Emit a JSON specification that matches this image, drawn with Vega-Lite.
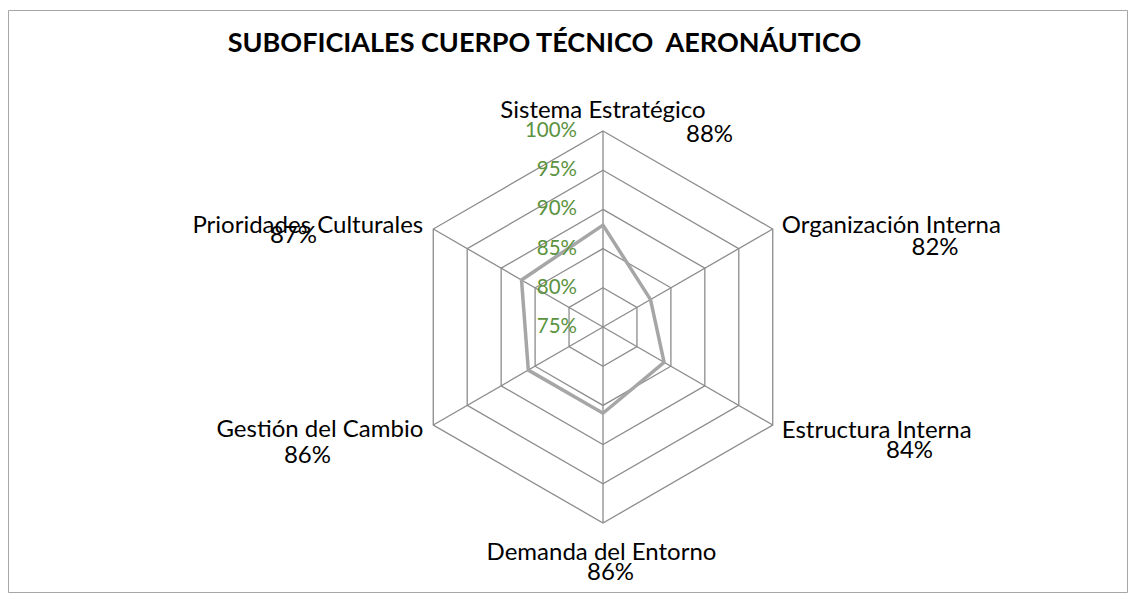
{
  "$schema": "https://vega.github.io/schema/vega-lite/v6.json",
  "width": 1119,
  "height": 582,
  "autosize": {"type": "none"},
  "padding": {"left": 8, "top": 10, "right": 4, "bottom": 4},
  "background": "white",
  "config": {"view": {"stroke": "#a6a6a6", "strokeWidth": 1}},
  "title": {
    "text": "SUBOFICIALES CUERPO TÉCNICO \u00a0AERONÁUTICO",
    "font": "Lato", "fontSize": 27, "fontWeight": "bold", "color": "#000000",
    "anchor": "middle", "offset": 0, "baseline": "alphabetic", "dy": 69, "dx": -23
  },
  "datasets": {
    "main": [
      {"axis": 0, "category": "Sistema Estratégico", "value": 0.88},
      {"axis": 1, "category": "Organización Interna", "value": 0.82},
      {"axis": 2, "category": "Estructura Interna", "value": 0.84},
      {"axis": 3, "category": "Demanda del Entorno", "value": 0.86},
      {"axis": 4, "category": "Gestión del Cambio", "value": 0.86},
      {"axis": 5, "category": "Prioridades Culturales", "value": 0.87}
    ],
    "levels": [
      {"level": 0.75}, {"level": 0.80}, {"level": 0.85}, {"level": 0.90}, {"level": 0.95}, {"level": 1.00}
    ],
    "grid": [
      {"axis": 0, "level": 0.80}, {"axis": 1, "level": 0.80}, {"axis": 2, "level": 0.80}, {"axis": 3, "level": 0.80}, {"axis": 4, "level": 0.80}, {"axis": 5, "level": 0.80},
      {"axis": 0, "level": 0.85}, {"axis": 1, "level": 0.85}, {"axis": 2, "level": 0.85}, {"axis": 3, "level": 0.85}, {"axis": 4, "level": 0.85}, {"axis": 5, "level": 0.85},
      {"axis": 0, "level": 0.90}, {"axis": 1, "level": 0.90}, {"axis": 2, "level": 0.90}, {"axis": 3, "level": 0.90}, {"axis": 4, "level": 0.90}, {"axis": 5, "level": 0.90},
      {"axis": 0, "level": 0.95}, {"axis": 1, "level": 0.95}, {"axis": 2, "level": 0.95}, {"axis": 3, "level": 0.95}, {"axis": 4, "level": 0.95}, {"axis": 5, "level": 0.95},
      {"axis": 0, "level": 1.00}, {"axis": 1, "level": 1.00}, {"axis": 2, "level": 1.00}, {"axis": 3, "level": 1.00}, {"axis": 4, "level": 1.00}, {"axis": 5, "level": 1.00}
    ]
  },
  "data": {"name": "main"},
  "transform": [
    {"calculate": "datum.axis * PI / 3", "as": "theta"},
    {"calculate": "(datum.value - 0.75) * 100 * sin(datum.theta)", "as": "px"},
    {"calculate": "(datum.value - 0.75) * 100 * cos(datum.theta)", "as": "py"},
    {"calculate": "25 * sin(datum.theta)", "as": "ox"},
    {"calculate": "25 * cos(datum.theta)", "as": "oy"},
    {"calculate": "0", "as": "zero"}
  ],
  "layer": [
    {
      "data": {"name": "grid"},
      "transform": [
        {"calculate": "datum.axis * PI / 3", "as": "theta"},
        {"calculate": "(datum.level - 0.75) * 100 * sin(datum.theta)", "as": "gx"},
        {"calculate": "(datum.level - 0.75) * 100 * cos(datum.theta)", "as": "gy"}
      ],
      "mark": {"type": "line", "interpolate": "linear-closed", "stroke": "#8c8c8c", "strokeWidth": 1.3},
      "encoding": {
        "x": {"field": "gx", "type": "quantitative", "axis": null, "scale": {"domain": [-75.893, 66.837], "nice": false, "zero": false}},
        "y": {"field": "gy", "type": "quantitative", "axis": null, "scale": {"domain": [-33.801, 40.434], "nice": false, "zero": false}},
        "detail": {"field": "level", "type": "nominal"},
        "order": {"field": "axis", "type": "quantitative"}
      }
    },
    {
      "mark": {"type": "rule", "stroke": "#8c8c8c", "strokeWidth": 1.3},
      "encoding": {
        "x": {"field": "zero", "type": "quantitative", "axis": null, "scale": {"domain": [-75.893, 66.837], "nice": false, "zero": false}},
        "y": {"field": "zero", "type": "quantitative", "axis": null, "scale": {"domain": [-33.801, 40.434], "nice": false, "zero": false}},
        "x2": {"field": "ox"},
        "y2": {"field": "oy"}
      }
    },
    {
      "mark": {"type": "line", "interpolate": "linear-closed", "stroke": "#a6a6a6", "strokeWidth": 3.5},
      "encoding": {
        "x": {"field": "px", "type": "quantitative", "axis": null, "scale": {"domain": [-75.893, 66.837], "nice": false, "zero": false}},
        "y": {"field": "py", "type": "quantitative", "axis": null, "scale": {"domain": [-33.801, 40.434], "nice": false, "zero": false}},
        "order": {"field": "axis", "type": "quantitative"}
      }
    },
    {
      "data": {"name": "levels"},
      "transform": [
        {"calculate": "(datum.level - 0.75) * 100", "as": "ly"},
        {"calculate": "0", "as": "zero"}
      ],
      "mark": {"type": "text", "font": "Lato", "fontSize": 20.5, "color": "#5B9340", "align": "right", "baseline": "middle", "dx": -26},
      "encoding": {
        "x": {"field": "zero", "type": "quantitative", "axis": null, "scale": {"domain": [-75.893, 66.837], "nice": false, "zero": false}},
        "y": {"field": "ly", "type": "quantitative", "axis": null, "scale": {"domain": [-33.801, 40.434], "nice": false, "zero": false}},
        "text": {"field": "level", "type": "quantitative", "format": ".0%"}
      }
    },
    {
      "transform": [{"filter": "datum.axis == 0"}],
      "mark": {"type": "text", "font": "Lato", "fontSize": 24, "color": "#000000", "align": "center", "baseline": "alphabetic", "dx": 0, "dy": -13},
      "encoding": {
        "x": {"field": "ox", "type": "quantitative", "axis": null, "scale": {"domain": [-75.893, 66.837], "nice": false, "zero": false}},
        "y": {"field": "oy", "type": "quantitative", "axis": null, "scale": {"domain": [-33.801, 40.434], "nice": false, "zero": false}},
        "text": {"field": "category", "type": "nominal"}
      }
    },
    {
      "transform": [{"filter": "datum.axis == 1"}],
      "mark": {"type": "text", "font": "Lato", "fontSize": 24, "color": "#000000", "align": "left", "baseline": "alphabetic", "dx": 9, "dy": 4},
      "encoding": {
        "x": {"field": "ox", "type": "quantitative", "axis": null, "scale": {"domain": [-75.893, 66.837], "nice": false, "zero": false}},
        "y": {"field": "oy", "type": "quantitative", "axis": null, "scale": {"domain": [-33.801, 40.434], "nice": false, "zero": false}},
        "text": {"field": "category", "type": "nominal"}
      }
    },
    {
      "transform": [{"filter": "datum.axis == 2"}],
      "mark": {"type": "text", "font": "Lato", "fontSize": 24, "color": "#000000", "align": "left", "baseline": "alphabetic", "dx": 9, "dy": 13},
      "encoding": {
        "x": {"field": "ox", "type": "quantitative", "axis": null, "scale": {"domain": [-75.893, 66.837], "nice": false, "zero": false}},
        "y": {"field": "oy", "type": "quantitative", "axis": null, "scale": {"domain": [-33.801, 40.434], "nice": false, "zero": false}},
        "text": {"field": "category", "type": "nominal"}
      }
    },
    {
      "transform": [{"filter": "datum.axis == 3"}],
      "mark": {"type": "text", "font": "Lato", "fontSize": 24, "color": "#000000", "align": "center", "baseline": "alphabetic", "dx": -1.5, "dy": 37},
      "encoding": {
        "x": {"field": "ox", "type": "quantitative", "axis": null, "scale": {"domain": [-75.893, 66.837], "nice": false, "zero": false}},
        "y": {"field": "oy", "type": "quantitative", "axis": null, "scale": {"domain": [-33.801, 40.434], "nice": false, "zero": false}},
        "text": {"field": "category", "type": "nominal"}
      }
    },
    {
      "transform": [{"filter": "datum.axis == 4"}],
      "mark": {"type": "text", "font": "Lato", "fontSize": 24, "color": "#000000", "align": "right", "baseline": "alphabetic", "dx": -10, "dy": 12},
      "encoding": {
        "x": {"field": "ox", "type": "quantitative", "axis": null, "scale": {"domain": [-75.893, 66.837], "nice": false, "zero": false}},
        "y": {"field": "oy", "type": "quantitative", "axis": null, "scale": {"domain": [-33.801, 40.434], "nice": false, "zero": false}},
        "text": {"field": "category", "type": "nominal"}
      }
    },
    {
      "transform": [{"filter": "datum.axis == 5"}],
      "mark": {"type": "text", "font": "Lato", "fontSize": 24, "color": "#000000", "align": "right", "baseline": "alphabetic", "dx": -10, "dy": 4},
      "encoding": {
        "x": {"field": "ox", "type": "quantitative", "axis": null, "scale": {"domain": [-75.893, 66.837], "nice": false, "zero": false}},
        "y": {"field": "oy", "type": "quantitative", "axis": null, "scale": {"domain": [-33.801, 40.434], "nice": false, "zero": false}},
        "text": {"field": "category", "type": "nominal"}
      }
    },
    {
      "transform": [{"filter": "datum.axis == 0"}],
      "mark": {"type": "text", "font": "Lato", "fontSize": 24, "color": "#000000", "align": "center", "baseline": "alphabetic", "dx": 106.5, "dy": 11},
      "encoding": {
        "x": {"field": "ox", "type": "quantitative", "axis": null, "scale": {"domain": [-75.893, 66.837], "nice": false, "zero": false}},
        "y": {"field": "oy", "type": "quantitative", "axis": null, "scale": {"domain": [-33.801, 40.434], "nice": false, "zero": false}},
        "text": {"field": "value", "type": "quantitative", "format": ".0%"}
      }
    },
    {
      "transform": [{"filter": "datum.axis == 1"}],
      "mark": {"type": "text", "font": "Lato", "fontSize": 24, "color": "#000000", "align": "center", "baseline": "alphabetic", "dx": 162.3, "dy": 26},
      "encoding": {
        "x": {"field": "ox", "type": "quantitative", "axis": null, "scale": {"domain": [-75.893, 66.837], "nice": false, "zero": false}},
        "y": {"field": "oy", "type": "quantitative", "axis": null, "scale": {"domain": [-33.801, 40.434], "nice": false, "zero": false}},
        "text": {"field": "value", "type": "quantitative", "format": ".0%"}
      }
    },
    {
      "transform": [{"filter": "datum.axis == 2"}],
      "mark": {"type": "text", "font": "Lato", "fontSize": 24, "color": "#000000", "align": "center", "baseline": "alphabetic", "dx": 136.8, "dy": 33},
      "encoding": {
        "x": {"field": "ox", "type": "quantitative", "axis": null, "scale": {"domain": [-75.893, 66.837], "nice": false, "zero": false}},
        "y": {"field": "oy", "type": "quantitative", "axis": null, "scale": {"domain": [-33.801, 40.434], "nice": false, "zero": false}},
        "text": {"field": "value", "type": "quantitative", "format": ".0%"}
      }
    },
    {
      "transform": [{"filter": "datum.axis == 3"}],
      "mark": {"type": "text", "font": "Lato", "fontSize": 24, "color": "#000000", "align": "center", "baseline": "alphabetic", "dx": 7.5, "dy": 57},
      "encoding": {
        "x": {"field": "ox", "type": "quantitative", "axis": null, "scale": {"domain": [-75.893, 66.837], "nice": false, "zero": false}},
        "y": {"field": "oy", "type": "quantitative", "axis": null, "scale": {"domain": [-33.801, 40.434], "nice": false, "zero": false}},
        "text": {"field": "value", "type": "quantitative", "format": ".0%"}
      }
    },
    {
      "transform": [{"filter": "datum.axis == 4"}],
      "mark": {"type": "text", "font": "Lato", "fontSize": 24, "color": "#000000", "align": "center", "baseline": "alphabetic", "dx": -125.8, "dy": 38},
      "encoding": {
        "x": {"field": "ox", "type": "quantitative", "axis": null, "scale": {"domain": [-75.893, 66.837], "nice": false, "zero": false}},
        "y": {"field": "oy", "type": "quantitative", "axis": null, "scale": {"domain": [-33.801, 40.434], "nice": false, "zero": false}},
        "text": {"field": "value", "type": "quantitative", "format": ".0%"}
      }
    },
    {
      "transform": [{"filter": "datum.axis == 5"}],
      "mark": {"type": "text", "font": "Lato", "fontSize": 24, "color": "#000000", "align": "center", "baseline": "alphabetic", "dx": -139.8, "dy": 14},
      "encoding": {
        "x": {"field": "ox", "type": "quantitative", "axis": null, "scale": {"domain": [-75.893, 66.837], "nice": false, "zero": false}},
        "y": {"field": "oy", "type": "quantitative", "axis": null, "scale": {"domain": [-33.801, 40.434], "nice": false, "zero": false}},
        "text": {"field": "value", "type": "quantitative", "format": ".0%"}
      }
    }
  ]
}
